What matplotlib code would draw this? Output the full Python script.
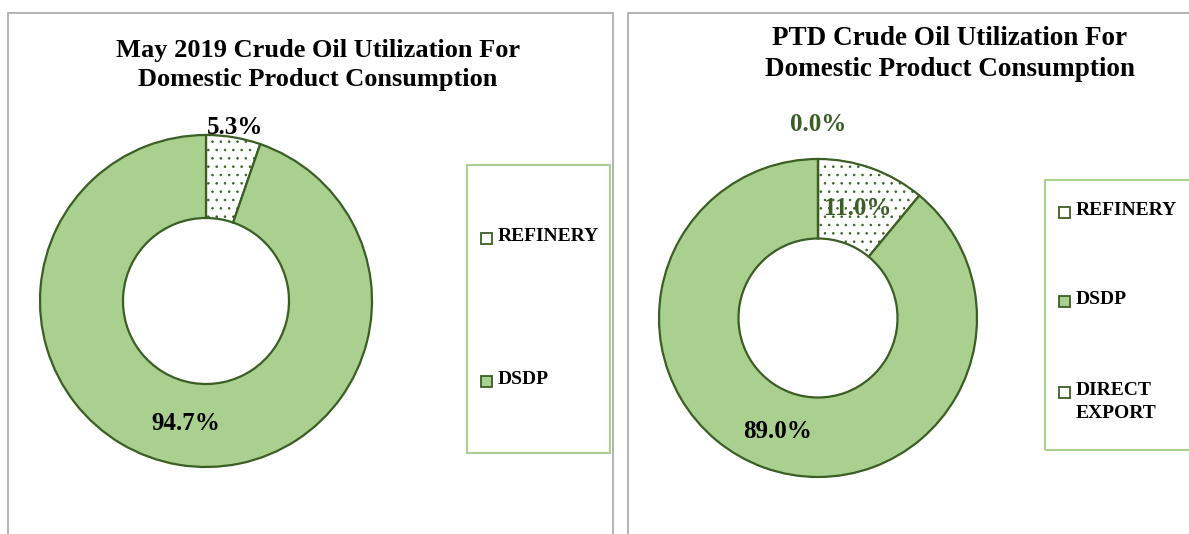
import numpy as np
import matplotlib.pyplot as plt
from matplotlib.patches import Rectangle

# ==== DATA ====
may_labels = ["REFINERY", "DSDP"]
may_values = [5.3, 94.7]

ptd_labels = ["REFINERY", "DSDP", "DIRECT\nEXPORT"]
ptd_values = [11.0, 89.0, 0.0]

TITLE_MAY = "May 2019 Crude Oil Utilization For\nDomestic Product Consumption"
TITLE_PTD = "PTD Crude Oil Utilization For\nDomestic Product Consumption"

# ==== STYLE ====
W, H = 1189, 534
GREEN = "#A9D08E"
DARK = "#3B5E24"
BORDER = "#A6A6A6"
FONT = "Liberation Serif"

plt.rcParams["font.family"] = FONT
plt.rcParams["hatch.linewidth"] = 0.6

fig = plt.figure(figsize=(W / 100, H / 100), dpi=100)


def fx(x):
    return x / W


def fy(y):
    return 1 - y / H


def donut(cx, cy, r, values, fills, hatches, label_r, label_colors):
    ax = fig.add_axes([fx(cx - r), fy(cy + r), 2 * r / W, 2 * r / H])
    wedges, _ = ax.pie(values, radius=1, startangle=90, counterclock=False,
                       colors=fills,
                       wedgeprops=dict(width=0.5, edgecolor=DARK, linewidth=1.6))
    for w, h in zip(wedges, hatches):
        if h:
            w.set_hatch(h)
    ax.set_xlim(-1, 1)
    ax.set_ylim(-1, 1)
    ax.set_aspect("auto")
    ax.axis("off")

    # percentage labels
    total = sum(values)
    start = 90.0
    for v, lr, col in zip(values, label_r, label_colors):
        mid = np.deg2rad(start - v / total * 360 / 2)
        ax.text(lr * np.cos(mid), lr * np.sin(mid), f"{v:.1f}%",
                ha="center", va="center", fontsize=18, fontweight="bold",
                color=col, clip_on=False)
        start -= v / total * 360
    return ax


def legend(x0, y0, x1, y1, labels, fills, rows):
    fig.patches.append(Rectangle((fx(x0), fy(y1)), fx(x1 - x0), (y1 - y0) / H,
                                 transform=fig.transFigure, fill=False,
                                 edgecolor=GREEN, linewidth=1.5))
    for lab, fc, ry in zip(labels, fills, rows):
        fig.patches.append(Rectangle((fx(x0 + 14), fy(ry + 6)), 11 / W, 11 / H,
                                     transform=fig.transFigure, facecolor=fc,
                                     edgecolor=DARK, linewidth=1.3))
        fig.text(fx(x0 + 31), fy(ry - 10), lab, ha="left", va="top",
                 fontsize=14, fontweight="bold", linespacing=1.45)


# panel borders
fig.patches.append(Rectangle((fx(8), -0.05), fx(613 - 8), fy(13) + 0.05,
                             transform=fig.transFigure, fill=False,
                             edgecolor=BORDER, linewidth=1.2))
fig.patches.append(Rectangle((fx(628), -0.05), fx(1200 - 628), fy(13) + 0.05,
                             transform=fig.transFigure, fill=False,
                             edgecolor=BORDER, linewidth=1.2))

# left chart
fig.text(fx(318), fy(65), TITLE_MAY, ha="center", va="center",
         fontsize=19, fontweight="bold", linespacing=1.33)
donut(206, 301, 166, may_values, ["white", GREEN], ["..", None],
      [1.06, 0.75], ["black", "black"])
legend(467, 165, 610, 453, may_labels, ["white", GREEN], [238, 381])

# right chart
fig.text(fx(950), fy(54), TITLE_PTD, ha="center", va="center",
         fontsize=19.5, fontweight="bold", linespacing=1.3)
donut(818, 318, 159, ptd_values, ["white", GREEN, "white"], ["..", None, None],
      [0.735, 0.76, 1.22], [DARK, "black", DARK])
legend(1045, 180, 1195, 450, ptd_labels, ["white", GREEN, "white"], [212, 301, 392])

fig.savefig("out.png", dpi=100)
